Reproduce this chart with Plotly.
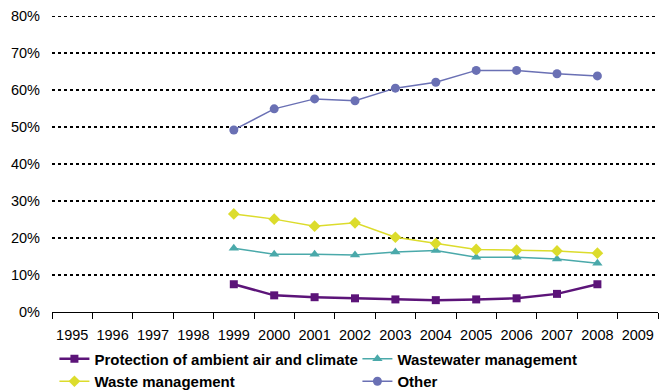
import plotly.graph_objects as go

# categories (years) and shares per domain
years = list(range(1995, 2010))
data_years = list(range(1999, 2009))

air_climate = [7.5, 4.5, 4.0, 3.7, 3.4, 3.2, 3.4, 3.7, 4.9, 7.5]
wastewater = [17.2, 15.6, 15.6, 15.4, 16.2, 16.6, 14.8, 14.8, 14.3, 13.2]
waste = [26.5, 25.1, 23.2, 24.1, 20.2, 18.5, 16.9, 16.7, 16.5, 15.9]
other = [49.2, 54.9, 57.6, 57.1, 60.5, 62.1, 65.3, 65.3, 64.4, 63.8]

y_ticks = [0, 10, 20, 30, 40, 50, 60, 70, 80]

FONT = "Liberation Sans, Arial, sans-serif"

fig = go.Figure()

series = [
    ("Protection of ambient air and climate", air_climate, "#5c1479", "square", 8, 2.5),
    ("Wastewater management", wastewater, "#4aa9aa", "triangle-up", 9, 1.5),
    ("Waste management", waste, "#dcdc2c", "diamond", 9, 1.5),
    ("Other", other, "#6a70b4", "circle", 9, 1.5),
]

for name, vals, color, symbol, msize, lw in series:
    fig.add_trace(go.Scatter(
        x=data_years,
        y=[v / 100 for v in vals],
        mode="lines+markers",
        name=name,
        line=dict(color=color, width=lw),
        marker=dict(symbol=symbol, size=msize, color=color),
    ))

# dotted gridlines drawn at the tick positions
for t in y_ticks[1:]:
    fig.add_hline(y=t / 100, line=dict(color="black", width=2, dash="dot"), layer="below")

fig.update_layout(
    width=664,
    height=392,
    margin=dict(l=52, r=6, t=16, b=80, autoexpand=False),
    plot_bgcolor="white",
    paper_bgcolor="white",
    font=dict(family=FONT, size=14.5, color="black"),
    showlegend=True,
    legend=dict(
        orientation="h",
        x=0.004,
        xanchor="left",
        y=-0.103,
        yanchor="top",
        entrywidth=258,
        entrywidthmode="pixels",
        font=dict(family=FONT, size=15, color="black", weight="bold"),
        tracegroupgap=0,
        itemwidth=30,
    ),
    xaxis=dict(
        range=[1994.5, 2009.5],
        tickmode="array",
        tickvals=years,
        ticktext=[str(y) for y in years],
        ticks="",
        ticklabelstandoff=10,
        showgrid=False,
        zeroline=False,
        showline=True,
        linecolor="black",
        linewidth=1,
        automargin=False,
        minor=dict(
            tickmode="array",
            tickvals=[y - 0.5 for y in years] + [years[-1] + 0.5],
            ticks="outside",
            ticklen=6,
            tickcolor="black",
            tickwidth=1,
            showgrid=False,
        ),
    ),
    yaxis=dict(
        range=[0, 0.8],
        tickmode="array",
        tickvals=[t / 100 for t in y_ticks],
        ticktext=[f"{t}%" for t in y_ticks],
        showgrid=False,
        zeroline=False,
        showline=False,
        ticks="",
        automargin=False,
        ticklabelstandoff=11,
    ),
)

# drop the default page margin so the chart sits at the window's corner
fig.write_html("out.html", config={"displayModeBar": False},
               post_script="document.body.style.margin='0';")
